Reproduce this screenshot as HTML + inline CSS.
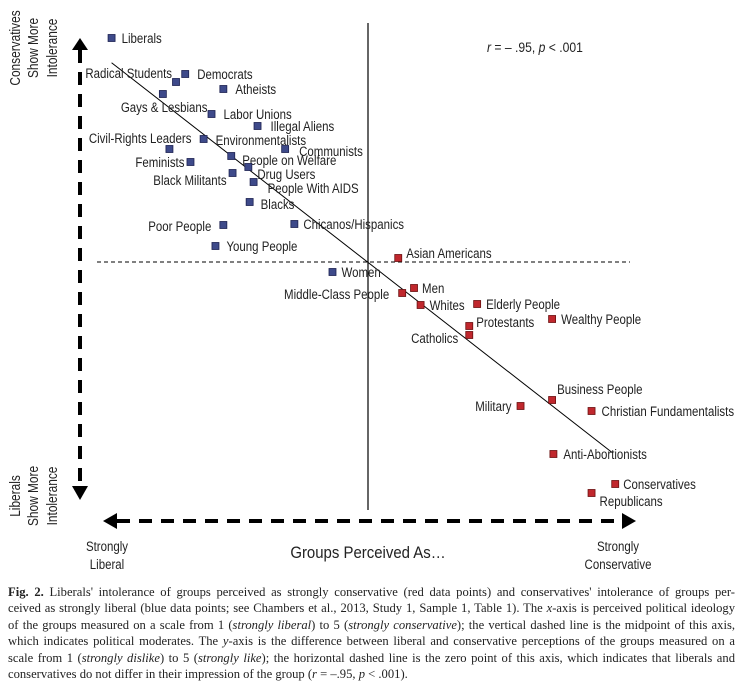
<!DOCTYPE html>
<html><head><meta charset="utf-8"><style>
html,body{margin:0;padding:0;background:#fff;width:743px;height:679px;overflow:hidden}
svg text{font-family:"Liberation Sans",sans-serif}
#cap{position:absolute;left:8px;top:584px;width:727px;font-family:"Liberation Serif",serif;font-size:12.6px;line-height:16.4px;color:#222}
#cap div{text-align:justify;text-align-last:justify;white-space:nowrap;height:16.4px}
#cap div.last{text-align-last:left}
</style></head><body>
<svg id="chart" width="743" height="580" style="position:absolute;left:0;top:0">
<g id="axes">
<line x1="80" y1="50" x2="80" y2="488" stroke="#000" stroke-width="4" stroke-dasharray="13,9"/>
<polygon points="72,50 88,50 80,38" fill="#000"/>
<polygon points="72,486 88,486 80,500" fill="#000"/>
<line x1="117" y1="521" x2="622" y2="521" stroke="#000" stroke-width="4" stroke-dasharray="13,9"/>
<polygon points="117,513 117,529 103,521" fill="#000"/>
<polygon points="622,513 622,529 636,521" fill="#000"/>
<line x1="368" y1="23" x2="368" y2="510" stroke="#000" stroke-width="1.2"/>
<line x1="97" y1="262" x2="630" y2="262" stroke="#000" stroke-width="1" stroke-dasharray="4,3"/>
</g>
<g font-size="14.5" fill="#222" text-anchor="middle">
<text transform="translate(20,48) rotate(-90) scale(0.82,1)">Conservatives</text>
<text transform="translate(38,48) rotate(-90) scale(0.82,1)">Show More</text>
<text transform="translate(57,48) rotate(-90) scale(0.82,1)">Intolerance</text>
</g>
<g font-size="14.5" fill="#222" text-anchor="middle">
<text transform="translate(20,496) rotate(-90) scale(0.82,1)">Liberals</text>
<text transform="translate(38,496) rotate(-90) scale(0.82,1)">Show More</text>
<text transform="translate(57,496) rotate(-90) scale(0.82,1)">Intolerance</text>
</g>
<g fill="#222" text-anchor="middle" font-size="13.5">
<text transform="translate(107,551) scale(0.85,1)">Strongly</text>
<text transform="translate(107,569) scale(0.85,1)">Liberal</text>
<text transform="translate(618,551) scale(0.85,1)">Strongly</text>
<text transform="translate(618,569) scale(0.85,1)">Conservative</text>
<text transform="translate(368,558) scale(0.88,1)" font-size="17">Groups Perceived As…</text>
</g>
<text transform="translate(487,52) scale(0.9,1)" font-size="13.5" fill="#222"><tspan font-style="italic">r</tspan> = – .95, <tspan font-style="italic">p</tspan> &lt; .001</text>
<g id="marks"></g>
</svg>
<div id="cap">
<div><b>Fig. 2.</b> Liberals' intolerance of groups perceived as strongly conservative (red data points) and conservatives' intolerance of groups per-</div>
<div>ceived as strongly liberal (blue data points; see Chambers et al., 2013, Study 1, Sample 1, Table 1). The <i>x</i>-axis is perceived political ideology</div>
<div>of the groups measured on a scale from 1 (<i>strongly liberal</i>) to 5 (<i>strongly conservative</i>); the vertical dashed line is the midpoint of this axis,</div>
<div>which indicates political moderates. The <i>y</i>-axis is the difference between liberal and conservative perceptions of the groups measured on a</div>
<div>scale from 1 (<i>strongly dislike</i>) to 5 (<i>strongly like</i>); the horizontal dashed line is the zero point of this axis, which indicates that liberals and</div>
<div class="last">conservatives do not differ in their impression of the group (<i>r</i> = –.95, <i>p</i> &lt; .001).</div>
</div>
<script>
const groups=["Liberals","Radical Students","Democrats","Gays & Lesbians","Atheists","Labor Unions","Illegal Aliens","Civil-Rights Leaders","Environmentalists","Communists","Feminists","People on Welfare","Drug Users","Black Militants","People With AIDS","Blacks","Poor People","Chicanos/Hispanics","Young People","Women","Asian Americans","Men","Middle-Class People","Whites","Elderly People","Protestants","Catholics","Wealthy People","Business People","Military","Christian Fundamentalists","Anti-Abortionists","Conservatives","Republicans"];
const ideology=[1.05,1.54,1.61,1.44,1.90,1.81,2.16,1.49,1.75,2.37,1.65,1.96,2.09,1.97,2.13,2.10,1.90,2.44,1.84,2.73,3.23,3.35,3.26,3.40,3.83,3.77,3.77,4.40,4.40,4.16,4.70,4.41,4.88,4.70];
const difference=[1.12,0.90,0.94,0.84,0.865,0.74,0.68,0.565,0.615,0.565,0.50,0.53,0.475,0.445,0.40,0.30,0.185,0.19,0.08,-0.05,0.02,-0.13,-0.155,-0.215,-0.21,-0.32,-0.365,-0.285,-0.69,-0.72,-0.745,-0.96,-1.11,-1.155];
const perceivedLiberal=[1,1,1,1,1,1,1,1,1,1,1,1,1,1,1,1,1,1,1,1,0,0,0,0,0,0,0,0,0,0,0,0,0,0];
const fitIntercept=[1.534];
const fitSlope=[-0.512];
const fitRange=[1.05,4.86];
// label placement (layout only)
const labelDX=[10,-4,12,-42,12,12,13,22,12,14,-6,11,9,-6,14,11,-12,9,11,9,8,8,-13,9,9,7,-11,9,5,-9,10,10,8,8];
const labelDY=[0,-9,0,13,0,0,0,-11,1,2,0,4,7,7,6,2,1,0,0,0,-5,0,1,0,0,-4,3,0,-11,0,0,0,0,8];
const labelEnd=[0,1,0,0,0,0,0,1,0,0,1,0,0,1,0,0,1,0,0,0,0,0,1,0,0,0,1,0,0,1,0,0,0,0];
const xs=v=>105+(v-1)*131.5;
const ys=v=>262-v*200;
const NS="http://www.w3.org/2000/svg";
const g=document.getElementById('marks');
const ln=document.createElementNS(NS,'line');


ln.setAttribute('x1',xs(fitRange[0]));ln.setAttribute('y1',ys(fitIntercept[0]+fitSlope[0]*fitRange[0]));
ln.setAttribute('x2',xs(fitRange[1]));ln.setAttribute('y2',ys(fitIntercept[0]+fitSlope[0]*fitRange[1]));
ln.setAttribute('stroke','#000');ln.setAttribute('stroke-width','1');
g.appendChild(ln);
groups.forEach((name,i)=>{
  const cx=xs(ideology[i]),cy=ys(difference[i]);
  const r=document.createElementNS(NS,'rect');
  
  
  r.setAttribute('x',cx-3.5);r.setAttribute('y',cy-3.5);r.setAttribute('width',7);r.setAttribute('height',7);
  r.setAttribute('fill',perceivedLiberal[i]?'#3e4a8a':'#c0272d');
  r.setAttribute('stroke',perceivedLiberal[i]?'#1c2150':'#6a1010');r.setAttribute('stroke-width','0.8');
  g.appendChild(r);
  const t=document.createElementNS(NS,'text');
  
  
  t.setAttribute('transform','translate('+(cx+labelDX[i])+','+(cy+labelDY[i]+5)+') scale(0.85,1)');
  t.setAttribute('font-size','13.5');t.setAttribute('fill','#222');
  if(labelEnd[i])t.setAttribute('text-anchor','end');
  t.textContent=name;
  g.appendChild(t);
});
</script>
</body></html>
